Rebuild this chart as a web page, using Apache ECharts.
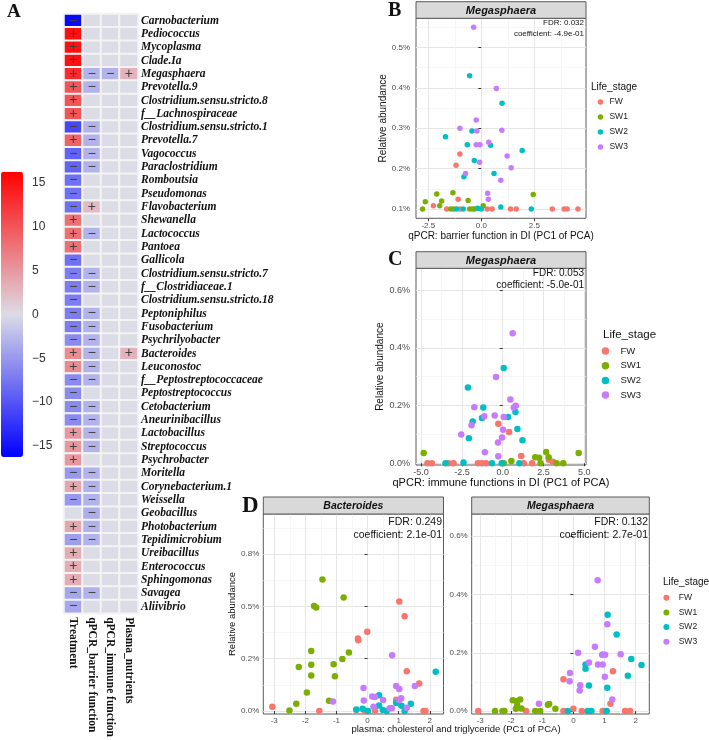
<!DOCTYPE html>
<html><head><meta charset="utf-8">
<script src="https://cdn.jsdelivr.net/npm/echarts@6/dist/echarts.min.js"></script>
<style>html,body{margin:0;padding:0;background:#fff}#c{width:709px;height:740px}</style>
</head><body><div id="c"></div>
<script>
// ---------------- DATA ----------------
const genera = ['Carnobacterium','Pediococcus','Mycoplasma','Clade.Ia','Megasphaera','Prevotella.9',
 'Clostridium.sensu.stricto.8','f__Lachnospiraceae','Clostridium.sensu.stricto.1','Prevotella.7','Vagococcus',
 'Paraclostridium','Romboutsia','Pseudomonas','Flavobacterium','Shewanella','Lactococcus','Pantoea','Gallicola',
 'Clostridium.sensu.stricto.7','f__Clostridiaceae.1','Clostridium.sensu.stricto.18','Peptoniphilus','Fusobacterium',
 'Psychrilyobacter','Bacteroides','Leuconostoc','f__Peptostreptococcaceae','Peptostreptococcus','Cetobacterium',
 'Aneurinibacillus','Lactobacillus','Streptococcus','Psychrobacter','Moritella','Corynebacterium.1','Weissella',
 'Geobacillus','Photobacterium','Tepidimicrobium','Ureibacillus','Enterococcus','Sphingomonas','Savagea','Aliivibrio'];
const heatColumns = ['Treatment','qPCR_barrier function','qPCR_immune function','Plasma_nutrients'];
const treatmentVals = [-15.5,15,15,15,13,10,10,10,-11,9,-9,-9,-8,-8,-8,8,8,8,-8,-7,-7,-7,-7,-7,-6,6,6,-6,-6,-6,-6,5,5,5,-5,4,-5,0,4,-4.5,3.5,3.5,3.5,-4,-4];
const barrierVals   = [0,0,0,0,-3,-3,0,0,-3,-3,-3,-3,0,0,2.5,0,-3,0,0,-3,-3,0,-3,-3,-3,-3,-3,-3,0,-3,-3,-3,-3,0,-3,-3,-3,-3.5,-3,-3,0,0,0,-3,0];
const immuneVals    = [0,0,0,0,-3,0,0,0,0,0,0,0,0,0,0,0,0,0,0,0,0,0,0,0,0,0,0,0,0,0,0,0,0,0,0,0,0,0,0,0,0,0,0,0,0];
const plasmaVals    = [0,0,0,0,3,0,0,0,0,0,0,0,0,0,0,0,0,0,0,0,0,0,0,0,0,3,0,0,0,0,0,0,0,0,0,0,0,0,0,0,0,0,0,0,0];
const colorbarTicks  = [-15,-10,-5,0,5,10,15];
const colorbarLabels = ['\u221215','\u221210','\u22125','0','5','10','15'];

const lifeStages = ['FW','SW1','SW2','SW3'];

// Panel B: qPCR barrier function vs Megasphaera
const bFW  = [[-1.01,0.236],[-1.19,0.208],[-1.09,0.124],[-2.26,0.108],[-1.63,0.1],[-1.0,0.1],[0.28,0.1],[0.51,0.1],[1.38,0.1],[1.65,0.1],[3.35,0.1],[3.91,0.1],[4.05,0.1],[4.56,0.1]];
const bSW1 = [[-2.77,0.1],[-2.64,0.118],[-2.10,0.137],[-1.96,0.108],[-1.87,0.12],[-1.34,0.14],[-1.44,0.1],[-1.30,0.1],[-0.62,0.121],[-0.55,0.1],[-0.42,0.1],[-0.32,0.1],[0.09,0.108],[2.45,0.136]];
const bSW2 = [[-0.55,0.43],[0.98,0.362],[-1.69,0.279],[-0.44,0.293],[-0.66,0.259],[0.44,0.258],[1.93,0.245],[-0.33,0.22],[0.60,0.188],[-0.82,0.18],[0.92,0.105],[-1.17,0.1],[-0.85,0.1],[-0.17,0.102],[0.0,0.1],[2.36,0.1]];
const bSW3 = [[-0.36,0.55],[0.71,0.398],[-0.24,0.32],[-1.01,0.30],[-0.21,0.293],[0.97,0.295],[-0.24,0.259],[-0.06,0.259],[0.35,0.265],[-0.08,0.216],[1.22,0.231],[1.41,0.202],[-0.74,0.188],[0.92,0.171],[0.30,0.139],[0.33,0.124]];
const bXTicks = [-2.5,0,2.5], bXLabels = ['-2.5','0.0','2.5'];
const bYTicks = [0.1,0.2,0.3,0.4,0.5], bYLabels = ['0.1%','0.2%','0.3%','0.4%','0.5%'];

// Panel C: qPCR immune functions vs Megasphaera
const cFW  = [[-0.27,0.137],[0.39,0.108],[1.13,0.025],[-4.61,0],[-4.34,0],[-3.3,0],[-3.01,0],[-1.52,0],[-1.27,0],[-1.02,0],[1.29,0],[1.80,0],[2.83,0.012],[3.07,0.005]];
const cSW1 = [[-4.84,0.036],[4.65,0.036],[2.66,0.039],[1.99,0.021],[2.23,0.019],[2.81,0.021],[0.53,0.008],[0.06,0],[2.32,0],[3.3,0],[3.71,0]];
const cSW2 = [[0.06,0.33],[-2.13,0.263],[-1.19,0.193],[-1.84,0.145],[-1.27,0.157],[0.33,0.16],[0.78,0.178],[0.90,0.119],[1.21,0.08],[-2.07,0.087],[-2.40,0.003],[-3.5,0],[-0.66,0],[-0.06,0],[1.02,0]];
const cSW3 = [[0.61,0.451],[-0.41,0.299],[0.47,0.221],[0.80,0.199],[0.68,0.193],[-1.74,0.194],[-1.91,0.132],[-1.13,0.163],[-0.49,0.166],[0.06,0.16],[0.02,0.116],[-0.04,0.089],[-0.29,0.072],[-2.54,0.10],[-1.09,0.038],[-0.27,0.024]];
const cXTicks = [-5,-2.5,0,2.5,5], cXLabels = ['-5.0','-2.5','0.0','2.5','5.0'];
const cYTicks = [0,0.2,0.4,0.6], cYLabels = ['0.0%','0.2%','0.4%','0.6%'];

// Panel D: plasma cholesterol & triglyceride vs Bacteroides / Megasphaera
const dBacFW  = [[1.02,0.523],[1.19,0.453],[-0.01,0.379],[-0.31,0.347],[-0.30,0.338],[1.26,0.19],[1.66,0.132],[0.92,0.054],[-3.06,0.021],[-1.55,0],[-0.36,0.005],[-0.1,0.003],[0.24,0.003],[1.8,0],[1.86,0]];
const dBacSW1 = [[-1.45,0.628],[-0.77,0.542],[-1.72,0.502],[-1.65,0.494],[-1.81,0.287],[-1.81,0.221],[-1.81,0.170],[-2.21,0.21],[-1.95,0.089],[-2.29,0.035],[-2.51,0.003],[-0.60,0.28],[-0.81,0.249],[-1.09,0.223],[-1.05,0.166],[-1.24,0.049]];
const dBacSW2 = [[2.19,0.188],[0.37,0.075],[1.39,0.035],[0.37,0.027],[0.92,0.038],[1.09,0.025],[-0.36,0.008],[-0.16,0.011],[0.01,0],[0.49,0.005],[0.61,0],[1.19,0]];
const dBacSW3 = [[0.79,0.266],[1.52,0.12],[0.92,0.12],[1.02,0.105],[1.08,0.061],[-0.13,0.11],[0.15,0.069],[0.24,0.067],[0.5,0.053],[-0.12,0.051],[-1.11,0.046],[0.19,0.021],[0.71,0.013],[0.78,0.013],[1.02,0.053],[1.26,0.016]];
const dMegFW  = [[-0.32,0.109],[1.27,0.137],[1.19,0.025],[-3.06,0],[-1.52,0],[-0.32,0],[0.0,0.008],[0.27,0],[0.94,0],[1.07,0],[1.66,0],[1.82,0]];
const dMegSW1 = [[-1.95,0.037],[-1.82,0.035],[-1.71,0.04],[-1.81,0.021],[-1.67,0.009],[-0.82,0.022],[-0.78,0.024],[-0.58,0.008],[-2.52,0],[-2.28,0],[-2.22,0],[-1.23,0],[-1.07,0],[-1.85,0.008]];
const dMegSW2 = [[1.10,0.33],[1.39,0.263],[0.93,0.193],[1.86,0.179],[2.19,0.158],[0.39,0.16],[0.39,0.145],[1.75,0.121],[0.50,0.088],[1.09,0.08],[-0.18,0],[0.46,0],[0.58,0],[1.06,0]];
const dMegSW3 = [[0.78,0.449],[1.09,0.298],[0.69,0.221],[0.15,0.20],[0.94,0.193],[1.02,0.193],[1.52,0.195],[0.50,0.167],[0.79,0.16],[0.94,0.16],[-0.11,0.131],[1.01,0.118],[-0.12,0.102],[0.22,0.089],[0.20,0.071],[1.25,0.04],[-1.11,0.025]];
const dXTicks = [-3,-2,-1,0,1,2], dXLabels = ['-3','-2','-1','0','1','2'];
const dBacYTicks = [0,0.25,0.5,0.75], dBacYLabels = ['0.0%','0.2%','0.5%','0.8%'];
const dMegYTicks = [0,0.2,0.4,0.6], dMegYLabels = ['0.0%','0.2%','0.4%','0.6%'];

// ---------------- STYLE / BUILD ----------------
const stageColors = {FW:'#F8766D', SW1:'#7CAE00', SW2:'#00BFC4', SW3:'#C77CFF'};
const SANS = 'Liberation Sans', SERIF = 'Liberation Serif';

function labeler(ticks, labels){
  return v => { const i = ticks.findIndex(t => Math.abs(t - v) < 1e-6); return i < 0 ? '' : labels[i]; };
}
function valueAxis(o){
  return {
    type:'value', gridIndex:o.grid, min:o.min, max:o.max, minInterval:o.step, maxInterval:o.step,
    axisLine:{show:false},
    axisTick:{show:true, length:3, customValues:o.ticks, lineStyle:{color:'#333', width:1}},
    axisLabel:{customValues:o.ticks, formatter:labeler(o.ticks, o.labels), fontSize:o.fs, color:'#4d4d4d',
               fontFamily:SANS, margin:o.margin, showMinLabel:true, showMaxLabel:true},
    splitLine:{show:true, lineStyle:{color:'#e6e6e6', width:1}},
    minorTick:{show:false, splitNumber:2},
    minorSplitLine:{show:true, lineStyle:{color:'#f2f2f2', width:0.7}},
    name:o.name || '', nameLocation:'middle', nameGap:o.nameGap || 0,
    nameTextStyle:{fontSize:o.nameFs || 10, color:'#111', fontFamily:SANS}
  };
}

const heatData = [];
[treatmentVals, barrierVals, immuneVals, plasmaVals].forEach((col, ci) =>
  col.forEach((v, ri) => heatData.push([ci, ri, v])));

const panelGrid = {show:true, backgroundColor:'#fff', borderColor:'#5a5a5a', borderWidth:1};
const grids = [
  {left:64, top:14, width:74, height:600.75},
  Object.assign({left:416, top:18.3, width:170, height:200}, panelGrid),
  Object.assign({left:416, top:268.3, width:170, height:196.7}, panelGrid),
  Object.assign({left:263.3, top:514, width:180.2, height:200}, panelGrid),
  Object.assign({left:471.7, top:514, width:177.6, height:200}, panelGrid),
  {left:23, top:171.7, width:1, height:285.3}
];

const xAxes = [
  {type:'category', gridIndex:0, data:heatColumns, position:'bottom', axisLine:{show:false}, axisTick:{show:false},
   splitLine:{show:false},
   axisLabel:{interval:0, rotate:-90, fontFamily:SERIF, fontWeight:'bold', fontSize:11.5, color:'#111', margin:4}},
  valueAxis({grid:1, min:-3.08, max:4.94, step:2.5, ticks:bXTicks, labels:bXLabels, fs:8, margin:3,
             name:'qPCR: barrier function in DI (PC1 of PCA)', nameGap:13, nameFs:10}),
  valueAxis({grid:2, min:-5.31, max:5.10, step:2.5, ticks:cXTicks, labels:cXLabels, fs:9, margin:3,
             name:'qPCR: immune functions in DI (PC1 of PCA)', nameGap:11, nameFs:11}),
  valueAxis({grid:3, min:-3.35, max:2.44, step:1, ticks:dXTicks, labels:dXLabels, fs:8, margin:3}),
  valueAxis({grid:4, min:-3.27, max:2.44, step:1, ticks:dXTicks, labels:dXLabels, fs:8, margin:3}),
  {type:'value', gridIndex:5, show:false}
];
const yAxes = [
  {type:'category', gridIndex:0, data:genera, inverse:true, position:'right', axisLine:{show:false}, axisTick:{show:false},
   splitLine:{show:false},
   axisLabel:{interval:0, fontFamily:SERIF, fontStyle:'italic', fontWeight:'bold', fontSize:11.5, color:'#111', margin:3}},
  valueAxis({grid:1, min:0.077, max:0.572, step:0.1, ticks:bYTicks, labels:bYLabels, fs:8, margin:6,
             name:'Relative abundance', nameGap:27, nameFs:10}),
  valueAxis({grid:2, min:-0.006, max:0.676, step:0.2, ticks:cYTicks, labels:cYLabels, fs:9, margin:6,
             name:'Relative abundance', nameGap:31, nameFs:10}),
  valueAxis({grid:3, min:-0.014, max:0.941, step:0.25, ticks:dBacYTicks, labels:dBacYLabels, fs:8, margin:4,
             name:'Relative abundance', nameGap:24, nameFs:9.5}),
  valueAxis({grid:4, min:-0.01, max:0.676, step:0.2, ticks:dMegYTicks, labels:dMegYLabels, fs:8, margin:4}),
  {type:'value', gridIndex:5, min:-16.25, max:16.25, minInterval:5, maxInterval:5, position:'right',
   axisLine:{show:false}, axisTick:{show:false}, splitLine:{show:false},
   axisLabel:{customValues:colorbarTicks, formatter:labeler(colorbarTicks, colorbarLabels), fontSize:12, color:'#333',
              fontFamily:SANS, margin:8}}
];

const series = [
  {type:'heatmap', xAxisIndex:0, yAxisIndex:0, data:heatData, silent:true,
   itemStyle:{borderColor:'#f3f3f3', borderWidth:2}, label:{show:false}},
  // sign marks over the heatmap cells
  {type:'scatter', xAxisIndex:0, yAxisIndex:0, data:heatData, silent:true, zlevel:1, z:50,
   symbol:'rect', symbolSize:[4, 4], itemStyle:{color:'rgba(0,0,0,0)'},
   labelLayout:{hideOverlap:false},
   label:{show:true, position:[2, 2], align:'center', verticalAlign:'middle',
          formatter:p => p.value[2] > 0 ? '+' : (p.value[2] < 0 ? '\u2212' : ''),
          color:'#3f3f3f', fontSize:14, fontFamily:SANS, textBorderWidth:0, opacity:1}}
];
function addScatter(axisIdx, sets, size){
  lifeStages.forEach((s, i) => series.push({
    type:'scatter', name:s, xAxisIndex:axisIdx, yAxisIndex:axisIdx, data:sets[i], symbol:'circle',
    symbolSize:size, silent:true, itemStyle:{color:stageColors[s], opacity:1}
  }));
}
addScatter(1, [bFW, bSW1, bSW2, bSW3], 5.5);
addScatter(2, [cFW, cSW1, cSW2, cSW3], 6.5);
addScatter(3, [dBacFW, dBacSW1, dBacSW2, dBacSW3], 6.5);
addScatter(4, [dMegFW, dMegSW1, dMegSW2, dMegSW3], 6.5);

function legend(left, top, w, h, fs, gap){
  return {data:lifeStages, orient:'vertical', left:left, top:top, padding:0, icon:'circle',
    itemWidth:w, itemHeight:h, itemGap:gap, selectedMode:false,
    textStyle:{fontSize:fs, fontFamily:SANS, color:'#222', lineHeight:12}};
}

function txt(x, y, text, font, align, extra){
  return Object.assign({type:'text', z:100, style:{x:x, y:y, text:text, font:font, fill:'#111',
    textAlign:align || 'left', textVerticalAlign:'middle'}}, extra || {});
}
function strip(x, y, w, h, label, fs){
  return [
    {type:'rect', z:99, shape:{x:x, y:y, width:w, height:h}, style:{fill:'#d9d9d9', stroke:'#5a5a5a', lineWidth:1}},
    txt(x + w/2, y + h/2 + 0.5, label, 'italic bold ' + fs + 'px ' + SANS, 'center')
  ];
}
const graphics = [].concat(
  [txt(7, 12, 'A', 'bold 19px ' + SERIF),
   txt(388, 11, 'B', 'bold 20px ' + SERIF),
   txt(388, 260, 'C', 'bold 20px ' + SERIF),
   txt(242, 506, 'D', 'bold 23px ' + SERIF)],
  strip(416, 1.7, 170, 16.6, 'Megasphaera', 11),
  strip(416, 251.7, 170, 16.6, 'Megasphaera', 11),
  strip(263.3, 497, 180.2, 17, 'Bacteroides', 10.5),
  strip(471.7, 497, 177.6, 17, 'Megasphaera', 10.5),
  [txt(584, 23, 'FDR: 0.032', '8px ' + SANS, 'right'),
   txt(584, 33.5, 'coefficient: -4.9e-01', '8px ' + SANS, 'right'),
   txt(584, 273.5, 'FDR: 0.053', '10px ' + SANS, 'right'),
   txt(584, 285.5, 'coefficient: -5.0e-01', '10px ' + SANS, 'right'),
   txt(442, 522, 'FDR: 0.249', '10.5px ' + SANS, 'right'),
   txt(442, 535.5, 'coefficient: 2.1e-01', '10.5px ' + SANS, 'right'),
   txt(648, 522, 'FDR: 0.132', '10.5px ' + SANS, 'right'),
   txt(648, 535.5, 'coefficient: 2.7e-01', '10.5px ' + SANS, 'right'),
   txt(591, 87, 'Life_stage', '10px ' + SANS),
   txt(603, 335, 'Life_stage', '11.5px ' + SANS),
   txt(663, 582, 'Life_stage', '10px ' + SANS),
   txt(456, 729, 'plasma: cholesterol and triglyceride (PC1 of PCA)', '9.5px ' + SANS, 'center')]
);

const chart = echarts.init(document.getElementById('c'), null, {renderer:'canvas'});
chart.setOption({
  animation:false,
  backgroundColor:'#fff',
  grid:grids, xAxis:xAxes, yAxis:yAxes, series:series,
  visualMap:[{type:'continuous', seriesIndex:0, dimension:2, min:-16.25, max:16.25, orient:'vertical',
    left:1, top:171.7, itemWidth:22, itemHeight:285.3, padding:0, calculable:false, hoverLink:false,
    inRange:{color:['#0000ff','#dcdce6','#ff0000']}}],
  legend:[legend(597.7, 96, 8, 5.5, 8.5, 3), legend(601.7, 345, 20, 7.5, 9.5, 2.7), legend(663.4, 591.7, 14.6, 6, 8.5, 2.7)],
  graphic:graphics
});
</script></body></html>
